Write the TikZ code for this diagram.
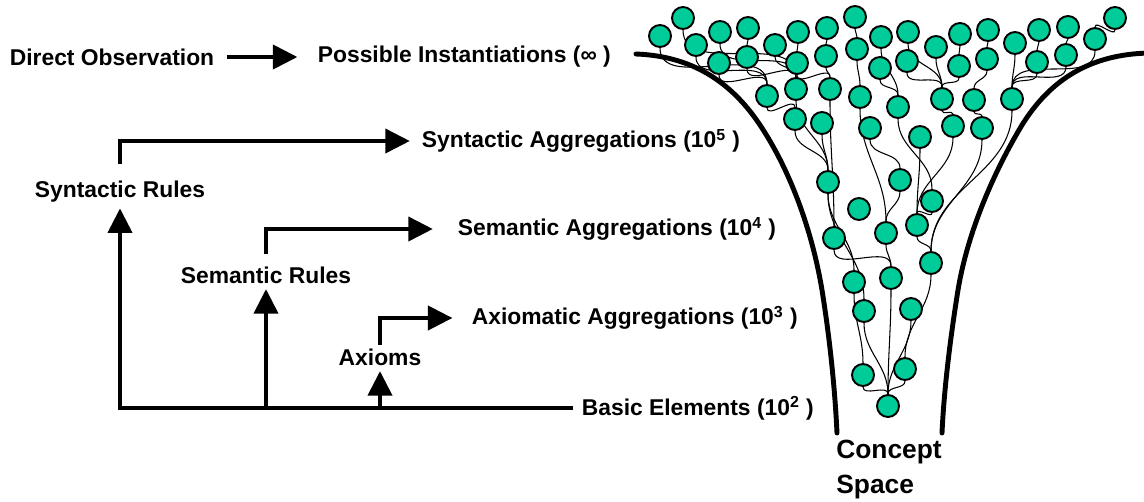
\documentclass[tikz,border=0pt]{standalone}
\usepackage{fontspec}
\setmainfont{Liberation Sans}
\usetikzlibrary{positioning,arrows.meta,backgrounds}
\definecolor{dotgreen}{RGB}{0,204,153}

\tikzset{
  lbl/.style={font=\bfseries\fontsize{13}{15}\selectfont, inner sep=2pt},
  bigarrow/.style={line width=2.7pt, -{Triangle[length=14pt,width=13.5pt]}},
  funnel/.style={line width=2.8pt, line cap=round},
  dot/.style={circle, draw, line width=1.1pt, fill=dotgreen, minimum size=0.44cm, inner sep=0pt},
  link/.style={line width=0.6pt},
}

\begin{document}
\begin{tikzpicture}[x=0.02cm, y=-0.02cm]
\useasboundingbox (0,0) rectangle (1144,501);

% labels
\node[lbl, anchor=west] (dirobs) at (6,57) {Direct Observation};
\node[lbl, anchor=west] (poss) at (314,57) {Possible Instantiations (∞ )};
\node[lbl] (synrules) at (120,192) {Syntactic Rules};
\node[lbl, anchor=west] (synagg) at (418,141) {Syntactic Aggregations (10\textsuperscript{5} )};
\node[lbl] (semrules) at (266,275) {Semantic Rules};
\node[lbl, anchor=west] (semagg) at (454,229) {Semantic Aggregations (10\textsuperscript{4} )};
\node[lbl] (axioms) at (380,357) {Axioms};
\node[lbl, anchor=west] (axagg) at (468,318) {Axiomatic Aggregations (10\textsuperscript{3} )};
\node[lbl, anchor=west] (basic) at (578,408) {Basic Elements (10\textsuperscript{2} )};
\node[font=\bfseries\fontsize{15}{19.5}\selectfont, align=left, anchor=north west, inner sep=0pt] (cspace) at (836,440) {Concept\\Space};

% arrows
\draw[bigarrow, shorten <=4.8pt, shorten >=9.4pt] (dirobs) -- (poss);
\draw[bigarrow, shorten <=7.4pt, shorten >=4.6pt] (synrules.north) |- (synagg.west);
\draw[bigarrow, shorten <=2.8pt, shorten >=1pt] (basic.west) -| (synrules.south);
\draw[bigarrow, shorten >=1pt] (basic.west -| semrules.south) -- (semrules.south);
\draw[bigarrow, shorten <=4.8pt, shorten >=12pt] (semrules.north) |- (semagg.west);
\draw[bigarrow, shorten >=1pt] (basic.west -| axioms.south) -- (axioms.south);
\draw[bigarrow, shorten >=8.8pt] (axioms.north) |- (axagg.west);

% funnel walls
\draw[funnel] (636,54) .. controls (690,56) and (730,80) .. (760,125)
  .. controls (790,170) and (812,230) .. (822,290)
  .. controls (830,340) and (835,390) .. (837,433);
\draw[funnel] (1150,53) .. controls (1090,54) and (1050,80) .. (1022,125)
  .. controls (995,170) and (968,230) .. (958,290)
  .. controls (950,340) and (944,390) .. (942,433);

% concepts
\foreach \n/\x/\y in {1/660/36, 2/683/18, 3/720/32, 4/748/28, 5/696/45, 6/719/63,
  7/775/45, 8/747/57, 9/798/32, 10/827/28, 11/855/17, 12/797/63, 13/826/56,
  14/857/49, 15/881/37, 16/908/32, 17/880/68, 18/907/61, 19/936/47, 20/960/34,
  21/988/30, 22/959/66, 23/987/59, 24/1015/43, 25/1039/30, 26/1068/27,
  27/1115/18, 28/1095/39, 29/1037/62, 30/1066/55,
  31/767/96, 32/796/89, 33/830/89, 34/860/97, 35/942/99, 36/974/100, 37/1012/99,
  38/795/119, 39/822/123, 40/898/107, 41/870/128, 42/920/137, 43/953/126, 44/982/128,
  45/828/182, 46/900/180, 47/859/209, 48/932/201, 49/917/225, 50/886/233,
  51/834/238, 52/931/263, 53/854/282, 54/891/278, 55/864/311, 56/911/309,
  57/863/375, 58/905/369, 59/888/406}
  \node[dot] (c\n) at (\x,\y) {};

\begin{scope}[on background layer]
\foreach \a/\b in {1/31, 5/31, 6/31, 2/32, 3/32, 4/8, 8/32, 7/32, 9/12, 12/33,
  10/13, 13/33, 11/14, 14/34, 15/40, 17/40, 16/35, 18/35, 19/35, 20/22, 22/35,
  21/23, 23/36, 24/37, 25/29, 26/30, 29/37, 30/37, 27/28, 28/37,
  31/38, 32/45, 33/51, 38/45, 39/45, 34/50, 41/46, 40/48, 42/49, 35/43, 36/44,
  43/49, 44/52, 37/52, 45/53, 46/50, 50/54, 51/54, 48/49, 49/52, 53/57, 45/55,
  54/59, 55/59, 56/59, 57/59, 58/59, 52/58}
  \draw[link] (c\a) to[out=-90,in=90] (c\b);
\end{scope}
\end{tikzpicture}
\end{document}
